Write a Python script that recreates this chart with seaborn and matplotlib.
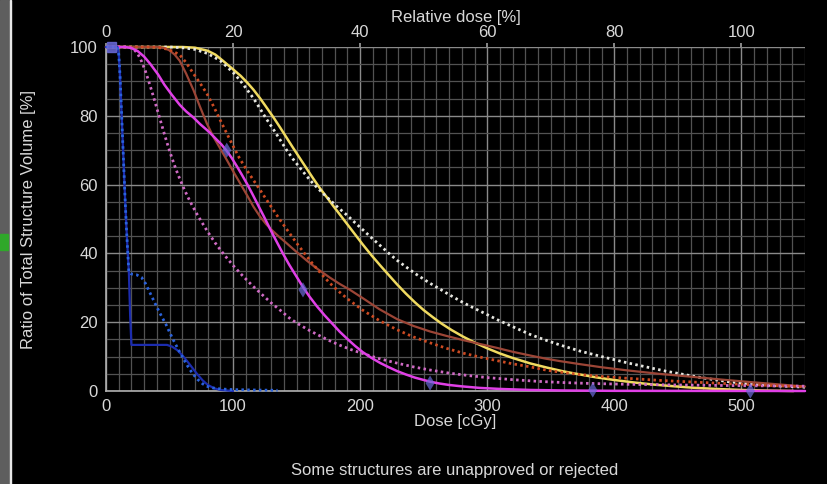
import numpy as np
import pandas as pd
import seaborn as sns
import matplotlib
matplotlib.use("Agg")
import matplotlib.pyplot as plt
from matplotlib.patches import Rectangle
from matplotlib.ticker import MultipleLocator

# ---------------- data ----------------
yellow_dose = [0, 60, 70, 80, 86, 92, 100, 106, 111, 116, 121, 126, 132, 137, 142, 147, 153, 158, 163, 168, 174, 179, 184, 190, 196, 202, 209, 216, 222, 229, 236, 243, 250, 257, 264, 272, 281, 290, 300, 310, 320, 334, 347, 360, 373, 386, 400, 415, 430, 446, 462, 480, 500, 520, 541]
yellow_vol = [100, 100, 99.8, 98.9, 97.8, 96.0, 93.5, 91.6, 89.7, 87.6, 85.2, 82.6, 79.4, 76.6, 73.7, 70.8, 67.4, 64.6, 61.8, 59.1, 56.2, 53.7, 51.3, 48.4, 45.5, 42.6, 39.4, 36.4, 33.9, 31.0, 28.3, 25.8, 23.5, 21.5, 19.6, 17.7, 15.8, 14.1, 12.4, 10.9, 9.6, 8.0, 6.8, 5.7, 4.8, 3.95, 3.2, 2.5, 1.9, 1.4, 0.95, 0.6, 0.3, 0.12, 0]

white_dose = [0, 50, 60, 70, 80, 90, 100, 105, 110, 116, 121, 126, 132, 137, 142, 147, 153, 158, 163, 170, 176, 183, 190, 196, 202, 209, 216, 222, 229, 236, 243, 250, 255, 262, 270, 281, 290, 300, 308, 320, 334, 345, 357, 373, 390, 410, 425, 440, 462, 475, 490, 505, 515, 530, 550]
white_vol = [100, 100, 99.8, 99.3, 98.1, 96, 92.6, 90.5, 88.1, 85.1, 82.2, 79.2, 75.9, 73.0, 70.1, 67.5, 64.7, 62.4, 60.3, 57.7, 55.6, 53.2, 51.0, 48.9, 46.9, 44.5, 42.2, 40.2, 38.0, 36.1, 34.2, 32.5, 31.3, 29.8, 28.0, 25.7, 24.0, 22.2, 20.7, 18.7, 16.4, 14.9, 13.4, 11.6, 10.0, 8.2, 7.0, 5.8, 4.3, 3.5, 2.7, 2.1, 1.8, 1.45, 1.1]

brown_dose = [0, 42, 46, 50, 54, 58, 63, 68.8, 74, 79.3, 84.5, 90, 95, 100, 105.5, 111, 116, 121, 126, 131, 136, 142, 150, 158, 166, 176, 184, 192, 202, 215, 229, 242, 255, 268, 281, 295, 308, 320, 334, 346, 357, 373, 390, 410, 435, 462, 485, 510, 530, 550]
brown_vol = [100, 100, 99.7, 99, 97.8, 96, 92.3, 87.5, 82.6, 77.8, 73.9, 70.4, 67.2, 63.9, 60.4, 56.9, 53.6, 50.8, 48.5, 46.6, 44.9, 43.0, 40.4, 37.9, 35.6, 33.0, 31.1, 29.4, 27.0, 23.8, 20.9, 18.9, 17.3, 16.0, 14.8, 13.6, 12.5, 11.4, 10.3, 9.4, 8.7, 7.8, 6.9, 6.0, 5.0, 4.1, 3.3, 2.5, 1.9, 1.3]

red_dose = [0, 35, 42, 48, 53, 58, 63, 68.7, 74, 79.3, 85, 89.8, 95, 100, 105, 110.8, 116, 121.3, 126.5, 131.7, 137, 143, 150, 157, 163, 170, 176, 183, 190, 202, 215, 229, 242, 255, 268, 281, 295, 308, 320, 334, 346, 357, 373, 390, 410, 435, 462, 485, 510, 530, 550]
red_vol = [100, 100, 99.8, 99.4, 98.7, 97.7, 95.5, 92.3, 89.5, 86.5, 82.5, 78.8, 74.9, 71.2, 67.7, 64.2, 61.3, 58.4, 55.5, 52.6, 49.7, 46.6, 43, 39.6, 36.8, 33.8, 31.4, 29.0, 26.8, 23.5, 20.5, 17.8, 15.7, 14.0, 12.4, 11.0, 9.8, 8.8, 7.9, 7.0, 6.1, 5.5, 4.8, 4.2, 3.7, 3.1, 2.6, 2.2, 1.8, 1.5, 1.2]

magenta_dose = [0, 15, 20, 25, 30, 35, 41, 46, 52, 58, 63, 68.8, 74, 79.3, 83, 87, 91, 95, 99, 103, 107, 111, 115, 119, 124, 129, 134, 139, 144, 150, 155, 160, 166, 172, 178, 184, 190, 196, 202, 209, 216, 222, 229, 236, 243, 250, 255, 262, 270, 280, 294, 310, 334, 360, 400, 550]
magenta_vol = [100, 100, 99.7, 98.8, 97.2, 95, 92, 89, 86, 83.2, 81.3, 79.5, 77.6, 75.9, 74.6, 73.1, 71.6, 69.8, 67.7, 65.3, 62.8, 60.2, 57.4, 54.5, 50.9, 47.2, 43.6, 40.1, 36.8, 33.2, 30.2, 27.5, 24.6, 22.0, 19.6, 17.2, 15.1, 13.1, 11.3, 9.6, 8.1, 7.0, 5.8, 4.8, 3.9, 3.2, 2.7, 2.2, 1.75, 1.35, 0.9, 0.6, 0.3, 0.15, 0.05, 0]

pink_dose = [0, 16, 19, 22, 25, 28, 31, 34, 37, 40, 43, 46, 49, 52, 55, 58, 61, 64, 67, 71, 75, 80, 86, 93, 100, 108, 115, 122, 130, 138, 145, 153, 161, 169, 176, 184, 193, 202, 215, 229, 242, 255, 270, 285, 300, 320, 340, 360, 380, 410, 450, 500, 550]
pink_vol = [100, 100, 99.8, 99.3, 98, 95.8, 93, 89.6, 86, 82.2, 78.4, 74.6, 71, 67.6, 64.5, 61.7, 59.1, 56.7, 54.5, 51.8, 49.3, 46.3, 43.0, 39.6, 36.5, 33.3, 30.7, 28.3, 25.6, 23.2, 21.0, 19.1, 17.4, 15.9, 14.6, 13.3, 12.0, 10.9, 9.4, 8.1, 7.0, 6.1, 5.2, 4.5, 3.9, 3.3, 2.8, 2.45, 2.2, 1.95, 1.75, 1.55, 1.4]

blue_dose = [0, 9, 10, 11, 12, 13, 14, 15, 16, 17, 18, 19, 20, 30, 40, 48, 52, 56, 60, 64, 68, 72, 76, 80, 85, 90, 100]
blue_vol = [100, 100, 98, 92, 83, 74, 65, 56, 48, 41, 34.5, 22, 13.4, 13.4, 13.4, 13.4, 12.9, 11.9, 10.4, 8.6, 6.7, 4.8, 3.1, 1.8, 0.8, 0.3, 0]

bluedot_dose = [0, 9, 10, 11, 12, 13, 14, 15, 16, 17, 18, 20, 24, 28, 31, 34, 37, 40, 44, 47, 50, 53, 57, 60, 63, 66, 69, 72, 76, 79, 84, 90, 100, 115, 135]
bluedot_vol = [100, 100, 98, 92, 83, 74, 65, 56, 48, 41, 34.5, 34, 33.8, 33, 31.3, 29, 26.7, 24.4, 21.5, 19.5, 17.1, 14.8, 12.0, 10, 8.0, 6.2, 4.7, 3.4, 2.1, 1.4, 0.9, 0.6, 0.4, 0.3, 0.2]

marker_dose = [95, 155, 255, 383, 507]
marker_vol = [70, 29.4, 2.3, 0.3, 0]

x_ticks = [0, 100, 200, 300, 400, 500]
y_ticks = [0, 20, 40, 60, 80, 100]
rel_ticks = [0, 20, 40, 60, 80, 100]
prescription = 500  # cGy corresponding to 100 % relative dose

curves = [
    ("yellow", yellow_dose, yellow_vol, "#f0da60", "-", 1.8),
    ("white", white_dose, white_vol, "#e6e6e0", ":", 2.0),
    ("brown", brown_dose, brown_vol, "#9c4536", "-", 1.6),
    ("red", red_dose, red_vol, "#cc4a22", ":", 2.0),
    ("pink", pink_dose, pink_vol, "#cf6ac4", ":", 2.0),
    ("magenta", magenta_dose, magenta_vol, "#e040e6", "-", 1.8),
    ("blue", blue_dose, blue_vol, "#1c2cae", "-", 1.6),
    ("bluedot", bluedot_dose, bluedot_vol, "#2a62dc", ":", 2.0),
]

# ---------------- style ----------------
sns.set_theme(style="dark")
plt.rcParams["font.family"] = ["Liberation Sans", "DejaVu Sans"]
plt.rcParams["axes.facecolor"] = "black"
plt.rcParams["figure.facecolor"] = "black"
txt = "#d8d8d8"

fig = plt.figure(figsize=(8.27, 4.84), dpi=100)
ax = fig.add_axes([106 / 827, 1 - 391 / 484, 699 / 827, 344 / 484])
ax.set_facecolor("black")

for name, d, v, col, ls, lw in curves:
    df = pd.DataFrame({"dose": d, "vol": v})
    line_ls = (0, (0.9, 1.2)) if ls == ":" else "-"
    sns.lineplot(data=df, x="dose", y="vol", ax=ax, color=col, linewidth=lw,
                 linestyle=line_ls, estimator=None, sort=False, clip_on=False,
                 zorder=3)

# structure markers
mdf = pd.DataFrame({"dose": marker_dose, "vol": marker_vol})
sns.scatterplot(data=mdf, x="dose", y="vol", ax=ax, marker="d", s=60,
                color="#6a6ad8", alpha=0.7, edgecolor="none", zorder=4,
                clip_on=False)
ax.add_patch(Rectangle((1, 98.5), 7, 3, color="#6a6ad8", alpha=0.85,
                       zorder=4, clip_on=False))

ax.set_xlim(0, 550)
ax.set_ylim(0, 100)
ax.set_xticks(x_ticks)
ax.set_yticks(y_ticks)
ax.xaxis.set_minor_locator(MultipleLocator(10))
ax.yaxis.set_minor_locator(MultipleLocator(5))
ax.grid(which="major", color="#8a8a8a", linewidth=1.0, zorder=1)
ax.grid(which="minor", color="#525252", linewidth=0.9, zorder=1)
ax.set_axisbelow(True)
ax.tick_params(which="major", colors=txt, labelsize=12, length=3, width=1,
               color="#9a9a9a", pad=3)
ax.tick_params(which="minor", length=0)
for s in ["top", "right"]:
    ax.spines[s].set_visible(False)
for s in ["left", "bottom"]:
    ax.spines[s].set_color("#b0b0b0")
    ax.spines[s].set_linewidth(1.2)

ax.set_xlabel("Dose [cGy]", color=txt, fontsize=12, labelpad=0)
ax.set_ylabel("Ratio of Total Structure Volume [%]", color=txt, fontsize=12)
ax.yaxis.set_label_coords(-0.1, 0.5)

sec = ax.secondary_xaxis("top", functions=(lambda d: d / prescription * 100,
                                           lambda r: r * prescription / 100))
sec.set_xticks(rel_ticks)
sec.tick_params(colors=txt, labelsize=12, length=3, color="#9a9a9a", pad=2)
sec.spines["top"].set_visible(False)
sec.set_xlabel("Relative dose [%]", color=txt, fontsize=12, labelpad=2)

# left strip (image edge)
fig.add_artist(Rectangle((0, 0), 9 / 827, 1, transform=fig.transFigure,
                         color="#5e5e5e", zorder=0))
fig.add_artist(Rectangle((0, 1 - 250 / 484), 8 / 827, 16 / 484,
                         transform=fig.transFigure, color="#2fa82a", zorder=1))
fig.add_artist(Rectangle((9.5 / 827, 0), 1.5 / 827, 1, transform=fig.transFigure,
                         color="#e8e8e8", zorder=1))

fig.text(455 / 827, 1 - 471 / 484, "Some structures are unapproved or rejected",
         color=txt, fontsize=12, ha="center", va="center")

fig.savefig("out.png", dpi=100, facecolor="black")
